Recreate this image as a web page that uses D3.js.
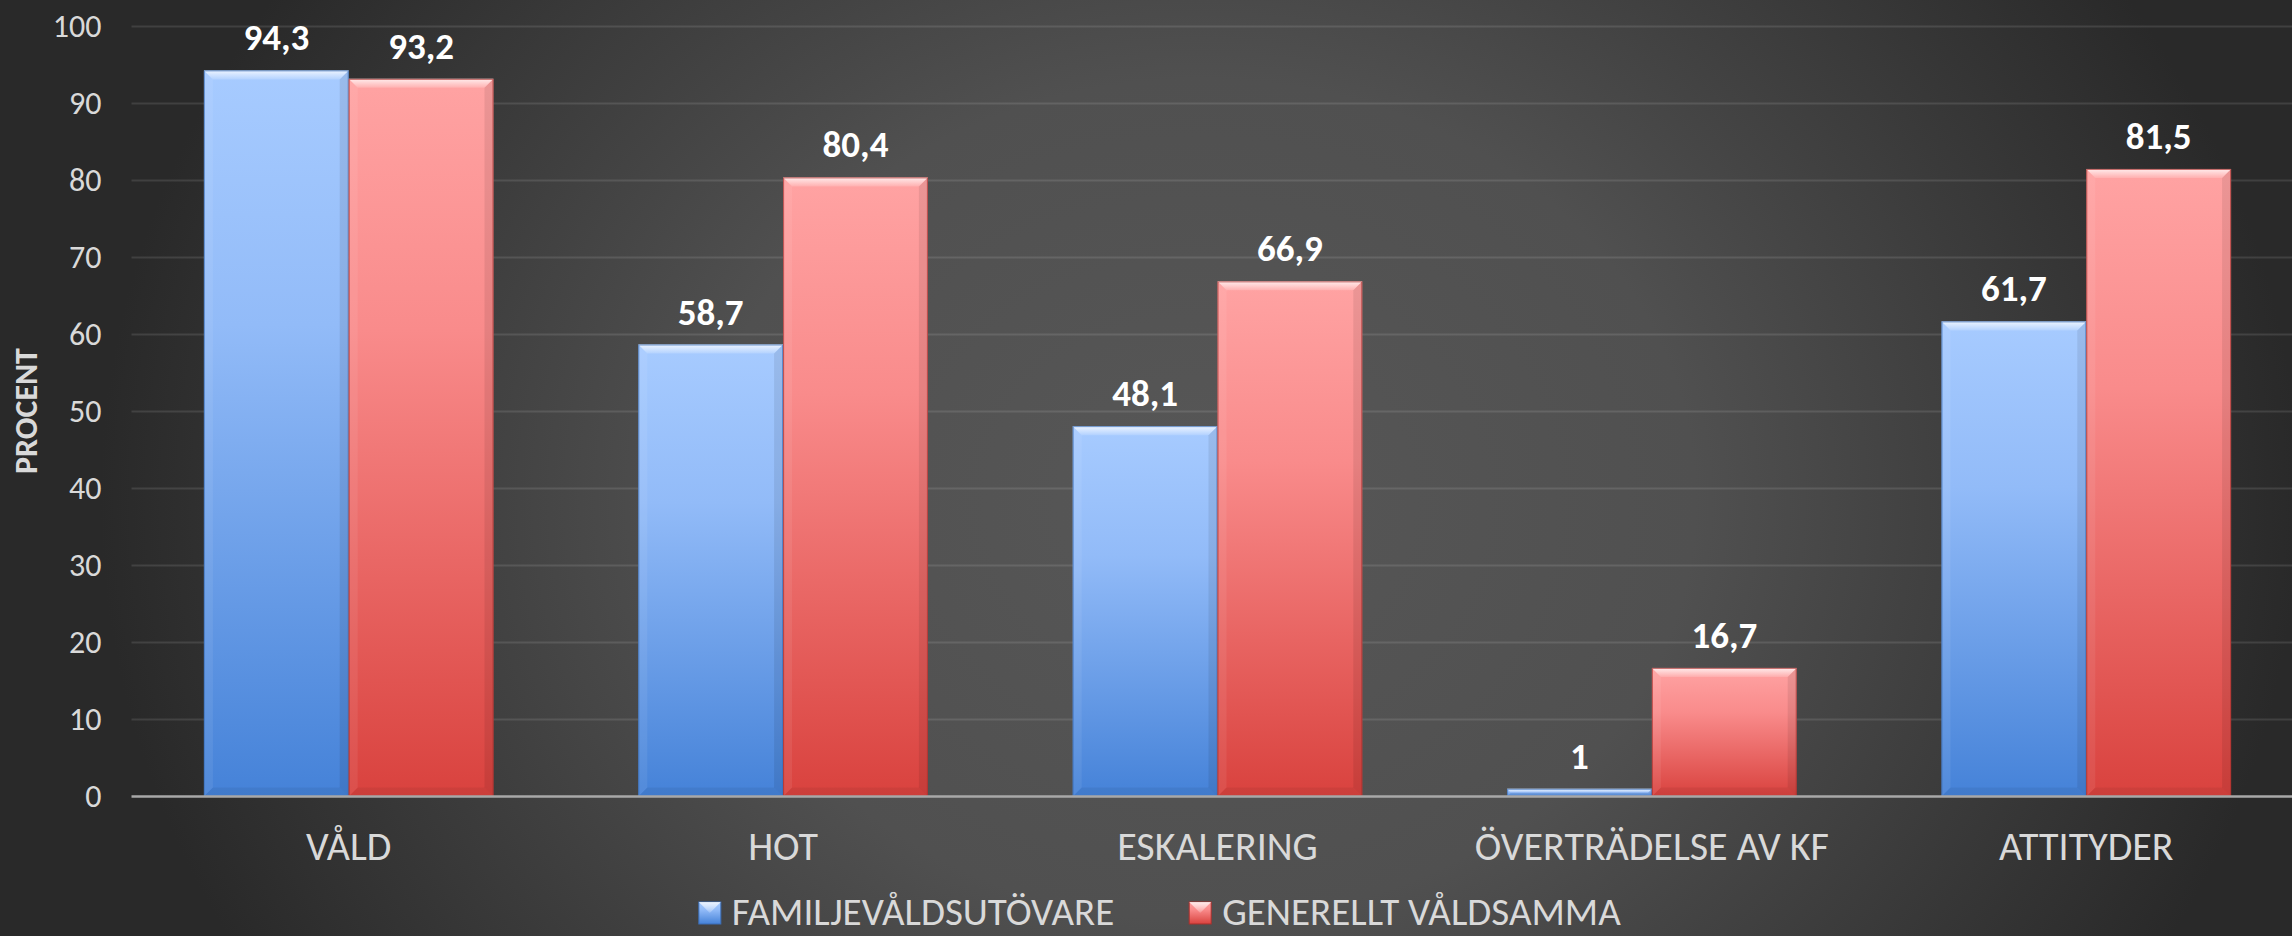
<!DOCTYPE html>
<html>
<head>
<meta charset="utf-8">
<script src="https://cdn.jsdelivr.net/npm/d3@7/dist/d3.min.js"></script>
<style>
    body { margin: 0; background: #2a2a2a; overflow: hidden; }
    svg { display: block; font-family: Carlito, Calibri, Lato, sans-serif; }
</style>
</head>
<body>
<div id="chart"></div>
<script>
const categories = ["VÅLD", "HOT", "ESKALERING", "ÖVERTRÄDELSE AV KF", "ATTITYDER"];
const seriesNames = ["FAMILJEVÅLDSUTÖVARE", "GENERELLT VÅLDSAMMA"];
const familjeValues = [94.3, 58.7, 48.1, 1, 61.7];
const generelltValues = [93.2, 80.4, 66.9, 16.7, 81.5];
const yTicks = [0, 10, 20, 30, 40, 50, 60, 70, 80, 90, 100];
const yTitle = "PROCENT";

const width = 2292, height = 936;
const margin = { top: 26.5, right: -11.5, bottom: 139.5, left: 131.5 };

// table built from the arrays
const rows = categories.map((c, i) => ({
    cat: c,
    vals: [familjeValues[i], generelltValues[i]]
}));

const palette = [
    { top: "#a7cbff", mid: "#92bbf8", bottom: "#4582d8", edge: "#3c6fb8" },
    { top: "#ffa3a3", mid: "#f98b8b", bottom: "#d9423e", edge: "#a8302d" }
];

const svg = d3.select("#chart")
    .append("svg")
    .attr("width", width)
    .attr("height", height);

const defs = svg.append("defs");

// background glow
const bg = defs.append("radialGradient")
    .attr("id", "bgGrad")
    .attr("gradientUnits", "userSpaceOnUse")
    .attr("cx", 1200).attr("cy", 500).attr("r", 1100)
    .attr("gradientTransform", "translate(1200,500) scale(1,0.85) translate(-1200,-500)");
bg.append("stop").attr("offset", 0).attr("stop-color", "#575757");
bg.append("stop").attr("offset", 0.45).attr("stop-color", "#505050");
bg.append("stop").attr("offset", 1).attr("stop-color", "#292929");

svg.append("rect")
    .attr("width", width).attr("height", height)
    .attr("fill", "url(#bgGrad)");

palette.forEach((p, i) => {
    const g = defs.append("linearGradient")
        .attr("id", "barGrad" + i)
        .attr("x1", 0).attr("y1", 0).attr("x2", 0).attr("y2", 1);
    g.append("stop").attr("offset", 0).attr("stop-color", p.top);
    g.append("stop").attr("offset", 0.35).attr("stop-color", p.mid);
    g.append("stop").attr("offset", 1).attr("stop-color", p.bottom);
});

const bevelGrad = defs.append("linearGradient")
    .attr("id", "bevelTop")
    .attr("x1", 0).attr("y1", 0).attr("x2", 0).attr("y2", 1);
bevelGrad.append("stop").attr("offset", 0).attr("stop-color", "#fff").attr("stop-opacity", 0.8);
bevelGrad.append("stop").attr("offset", 1).attr("stop-color", "#fff").attr("stop-opacity", 0.15);

const innerW = width - margin.left - margin.right;
const innerH = height - margin.top - margin.bottom;

const x0 = d3.scaleBand()
    .domain(categories)
    .range([0, innerW]);

const x1 = d3.scaleBand()
    .domain(seriesNames)
    .range([x0.bandwidth() / 6, x0.bandwidth() * 5 / 6]);

const y = d3.scaleLinear()
    .domain([0, 100])
    .range([innerH, 0]);

const plot = svg.append("g")
    .attr("transform", `translate(${margin.left},${margin.top})`);

// gridlines
plot.append("g")
    .selectAll("line")
    .data(yTicks.filter(t => t > 0))
    .enter()
    .append("line")
    .attr("x1", 0).attr("x2", innerW)
    .attr("y1", d => y(d)).attr("y2", d => y(d))
    .attr("stroke", "rgba(255,255,255,0.11)")
    .attr("stroke-width", 2);

// y axis labels
const yAxis = d3.axisLeft(y).tickValues(yTicks).tickSize(0).tickPadding(30);
const yG = plot.append("g").call(yAxis);
yG.select(".domain").remove();
yG.selectAll("text")
    .attr("fill", "#d9d9d9")
    .style("font-size", "32px")
    .style("font-family", "Carlito, Calibri, Lato, sans-serif");

// bars
const groups = plot.selectAll(".cat")
    .data(rows)
    .enter()
    .append("g")
    .attr("class", "cat")
    .attr("transform", d => `translate(${x0(d.cat)},0)`);

const bars = groups.selectAll(".bar")
    .data(d => d.vals.map((v, i) => ({ v: v, s: i, name: seriesNames[i] })))
    .enter()
    .append("g")
    .attr("class", "bar");

bars.each(function (d) {
    const g = d3.select(this);
    const bx = x1(d.name), bw = x1.bandwidth();
    const by = y(d.v), bh = y(0) - y(d.v);
    const b = Math.min(9, bh / 2);
    const p = palette[d.s];

    g.append("rect")
        .attr("x", bx).attr("y", by)
        .attr("width", bw).attr("height", bh)
        .attr("fill", `url(#barGrad${d.s})`);

    // top bevel
    g.append("polygon")
        .attr("points", [[bx, by], [bx + bw, by], [bx + bw - b, by + b], [bx + b, by + b]].join(" "))
        .attr("fill", "url(#bevelTop)");
    // sides
    g.append("polygon")
        .attr("points", [[bx, by], [bx + b, by + b], [bx + b, by + bh - b], [bx, by + bh]].join(" "))
        .attr("fill", "rgba(255,255,255,0.07)");
    g.append("polygon")
        .attr("points", [[bx + bw, by], [bx + bw - b, by + b], [bx + bw - b, by + bh - b], [bx + bw, by + bh]].join(" "))
        .attr("fill", "rgba(0,0,0,0.08)");
    g.append("polygon")
        .attr("points", [[bx, by + bh], [bx + b, by + bh - b], [bx + bw - b, by + bh - b], [bx + bw, by + bh]].join(" "))
        .attr("fill", "rgba(0,0,0,0.06)");

    g.append("rect")
        .attr("x", bx + 0.5).attr("y", by + 0.5)
        .attr("width", bw - 1).attr("height", Math.max(0, bh - 1))
        .attr("fill", "none")
        .attr("stroke", p.edge)
        .attr("stroke-opacity", 0.7)
        .attr("stroke-width", 1);

    g.append("text")
        .attr("x", bx + bw / 2)
        .attr("y", by - 20)
        .attr("text-anchor", "middle")
        .attr("fill", "#ffffff")
        .style("font-size", "37px")
        .style("font-weight", "bold")
        .text(String(d.v).replace(".", ","));
});

// axis baseline
plot.append("line")
    .attr("x1", 0).attr("x2", innerW)
    .attr("y1", y(0)).attr("y2", y(0))
    .attr("stroke", "#a8a8a8")
    .attr("stroke-width", 2.5);

// category labels
const xAxis = d3.axisBottom(x0).tickSize(0).tickPadding(35);
const xG = plot.append("g").attr("transform", `translate(0,${innerH})`).call(xAxis);
xG.select(".domain").remove();
xG.selectAll("text")
    .attr("fill", "#d9d9d9")
    .style("font-size", "40px")
    .style("font-family", "Carlito, Calibri, Lato, sans-serif");

// y title
svg.append("text")
    .attr("transform", `translate(37,411) rotate(-90)`)
    .attr("text-anchor", "middle")
    .attr("fill", "#d9d9d9")
    .style("font-size", "32px")
    .style("font-weight", "bold")
    .text(yTitle);

// legend
const legend = svg.append("g").attr("class", "legend");
const items = legend.selectAll("g")
    .data(seriesNames)
    .enter()
    .append("g");

items.append("rect")
    .attr("width", 22).attr("height", 22)
    .attr("y", -23)
    .attr("fill", (d, i) => `url(#barGrad${i})`)
    .attr("stroke", (d, i) => palette[i].edge)
    .attr("stroke-width", 1);
items.append("polygon")
    .attr("points", "0,-23 22,-23 11,-12")
    .attr("fill", "url(#bevelTop)");

items.append("text")
    .attr("x", 33)
    .attr("y", 0)
    .attr("fill", "#d9d9d9")
    .style("font-size", "39px")
    .text(d => d);

const widths = [];
items.each(function () { widths.push(this.getBBox().width); });
const gap = 75;
const total = d3.sum(widths) + gap * (widths.length - 1);
const start = 1160 - total / 2;
items.attr("transform", (d, i) => {
    const tx = start + d3.sum(widths.slice(0, i)) + gap * i;
    return `translate(${tx},925)`;
});
</script>
</body>
</html>
